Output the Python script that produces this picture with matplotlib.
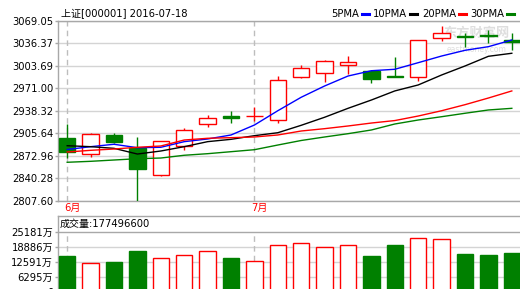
import matplotlib
matplotlib.use("Agg")
import matplotlib.pyplot as plt
from matplotlib.lines import Line2D
from matplotlib.transforms import blended_transform_factory

plt.rcParams["font.family"] = ["DejaVu Sans", "Noto Sans CJK SC"]
plt.rcParams["font.size"] = 7.2

# daily candles, 2016-06-21 .. 2016-07-18
opens = [2898.8, 2875.1, 2903.6, 2884.7, 2844.5, 2887.2, 2918.7, 2930.4, 2930.4, 2924.6,
         2988.0, 2993.8, 3004.6, 2996.3, 2989.0, 2988.0, 3044.3, 3047.7, 3048.7, 3041.4]
closes = [2878.9, 2904.2, 2893.0, 2854.1, 2894.0, 2910.5, 2927.5, 2928.4, 2931.3, 2983.2,
          3000.2, 3010.4, 3009.4, 2985.1, 2988.0, 3041.0, 3051.2, 3045.8, 3046.8, 3038.1]
highs = [2919.9, 2905.7, 2905.7, 2900.3, 2894.5, 2913.8, 2931.9, 2937.7, 2944.4, 2989.0,
         3005.0, 3012.7, 3018.1, 2997.8, 3016.2, 3041.0, 3061.8, 3051.2, 3056.0, 3051.2]
lows = [2870.2, 2871.2, 2892.2, 2807.6, 2844.0, 2880.9, 2914.4, 2921.1, 2923.5, 2921.1,
        2986.6, 2980.3, 2991.5, 2979.3, 2987.5, 2982.2, 3040.0, 3030.8, 3037.5, 3026.9]

ma5 = [2882.1, 2886.2, 2889.7, 2884.7, 2885.3, 2893.5, 2897.4, 2903.2, 2917.7, 2938.5,
       2958.1, 2974.5, 2989.0, 2996.7, 2998.8, 3008.4, 3018.1, 3026.4, 3031.7, 3041.4]
ma10 = [2887.6, 2886.2, 2883.8, 2875.5, 2879.9, 2886.2, 2893.5, 2896.9, 2902.2, 2906.5,
        2917.3, 2929.0, 2942.0, 2954.1, 2967.3, 2976.0, 2990.5, 3003.6, 3017.7, 3022.1]
ma20 = [2878.4, 2880.9, 2882.8, 2885.3, 2887.2, 2895.9, 2898.4, 2899.3, 2900.3, 2903.2,
        2909.0, 2912.4, 2916.3, 2920.6, 2924.2, 2930.8, 2938.5, 2947.3, 2957.0, 2967.3]
ma30 = [2863.5, 2864.9, 2866.8, 2868.7, 2869.7, 2873.7, 2876.0, 2878.9, 2881.8, 2888.6,
        2895.2, 2900.3, 2905.1, 2910.5, 2919.2, 2925.0, 2929.8, 2934.8, 2939.6, 2942.0]

# volume in units of 万
volume = [14899, 11835, 12381, 16998, 13934, 15193, 16872, 14060, 12675, 19390,
          20229, 18551, 19390, 14899, 19516, 22328, 21908, 15739, 15319, 16158]

price_ticks = [3069.05, 3036.37, 3003.69, 2971.00, 2938.32, 2905.64, 2872.96, 2840.28, 2807.60]
vol_ticks = [0, 6295, 12591, 18886, 25181]
vol_labels = ["0", "6295万", "12591万", "18886万", "25181万"]
month_pos = [0, 8]
month_labels = ["6月", "7月"]

RED, GREEN, BLUE = "#ff0000", "#008000", "#0000ff"
BORDER, GRID = "#a8a8a8", "#d4d4d4"

fig = plt.figure(figsize=(5.2, 2.89), dpi=100)
ax = fig.add_axes([58 / 520, 1 - 200.7 / 289, 462 / 520, 179.7 / 289])
axv = fig.add_axes([58 / 520, 1 - 291.7 / 289, 462 / 520, 75.7 / 289])

x = list(range(len(opens)))
up = [c >= o for o, c in zip(opens, closes)]
cols = [RED if u else GREEN for u in up]

# candles
ax.vlines(x, lows, highs, colors=cols, linewidth=1, zorder=3)
bottoms = [min(o, c) for o, c in zip(opens, closes)]
heights = [max(abs(c - o), 0.4) for o, c in zip(opens, closes)]
faces = ["white" if u else GREEN for u in up]
ax.bar(x, heights, bottom=bottoms, width=0.7, color=faces, edgecolor=cols,
       linewidth=1, zorder=4)

for ma, c in [(ma5, BLUE), (ma10, "black"), (ma20, RED), (ma30, GREEN)]:
    ax.plot(x, ma, color=c, linewidth=1, zorder=5)

ax.set_xlim(-0.393, 19.35)
ax.set_ylim(2807.60, 3069.05)
ax.set_yticks(price_ticks)
ax.set_yticklabels([f"{t:.2f}" for t in price_ticks])
ax.set_xticks([])
ax.grid(axis="y", color=GRID, linewidth=1)
ax.set_axisbelow(True)
for m in month_pos:
    ax.axvline(m, color="#bdbdbd", linewidth=1, dashes=(4, 3), zorder=1)

trans = blended_transform_factory(ax.transData, ax.transAxes)
for m, lab in zip(month_pos, month_labels):
    ax.text(m - 0.12, -0.015, lab, color=RED, transform=trans, ha="left", va="top")

# faint site watermark
ax.text(0.905, 0.93, "东方财富网", transform=ax.transAxes, ha="center", va="center",
        color="#dedede", fontsize=9.5, fontweight="bold", zorder=0.5)
ax.text(0.905, 0.84, "eastmoney.com", transform=ax.transAxes, ha="center", va="center",
        color="#dedede", fontsize=5.5, zorder=0.5)

# volume
vfaces = ["white" if u else GREEN for u in up]
axv.bar(x, volume, width=0.7, color=vfaces, edgecolor=cols, linewidth=1, zorder=3)
axv.set_xlim(-0.393, 19.35)
axv.set_ylim(0, 25181 * 75.7 / 60.2)
axv.set_yticks(vol_ticks)
axv.set_yticklabels(vol_labels)
axv.set_xticks([])
for t in vol_ticks[1:4]:
    axv.axhline(t, color=GRID, linewidth=1, zorder=1)
axv.axhline(25181, color=BORDER, linewidth=1, zorder=2)
for m in month_pos:
    axv.plot([m, m], [0, 25181], color="#bdbdbd", linewidth=1, dashes=(4, 3), zorder=1)
axv.text(0.004, 0.9, "成交量:177496600", transform=axv.transAxes, ha="left", va="center")

for a in (ax, axv):
    a.spines["right"].set_visible(False)
    for s in ("left", "top", "bottom"):
        a.spines[s].set_color(BORDER)
        a.spines[s].set_linewidth(1)
    a.tick_params(axis="y", length=2, width=1, color=BORDER, pad=1.5, labelsize=7.2)
axv.spines["bottom"].set_visible(False)

# header
fig.text(61 / 520, 1 - 14 / 289, "上证[000001] 2016-07-18", ha="left", va="center")
legend = [("5PMA", BLUE, 331), ("10PMA", "black", 373), ("20PMA", RED, 422), ("30PMA", GREEN, 470)]
fig.canvas.draw()
renderer = fig.canvas.get_renderer()
for lab, c, px in legend:
    t = fig.text(px / 520, 1 - 14 / 289, lab, ha="left", va="center")
    w = t.get_window_extent(renderer).x1
    fig.add_artist(Line2D([(w + 3) / 520, (w + 10) / 520], [1 - 14 / 289, 1 - 14 / 289],
                          color=c, linewidth=2.2))

fig.savefig("out.png", dpi=100)
